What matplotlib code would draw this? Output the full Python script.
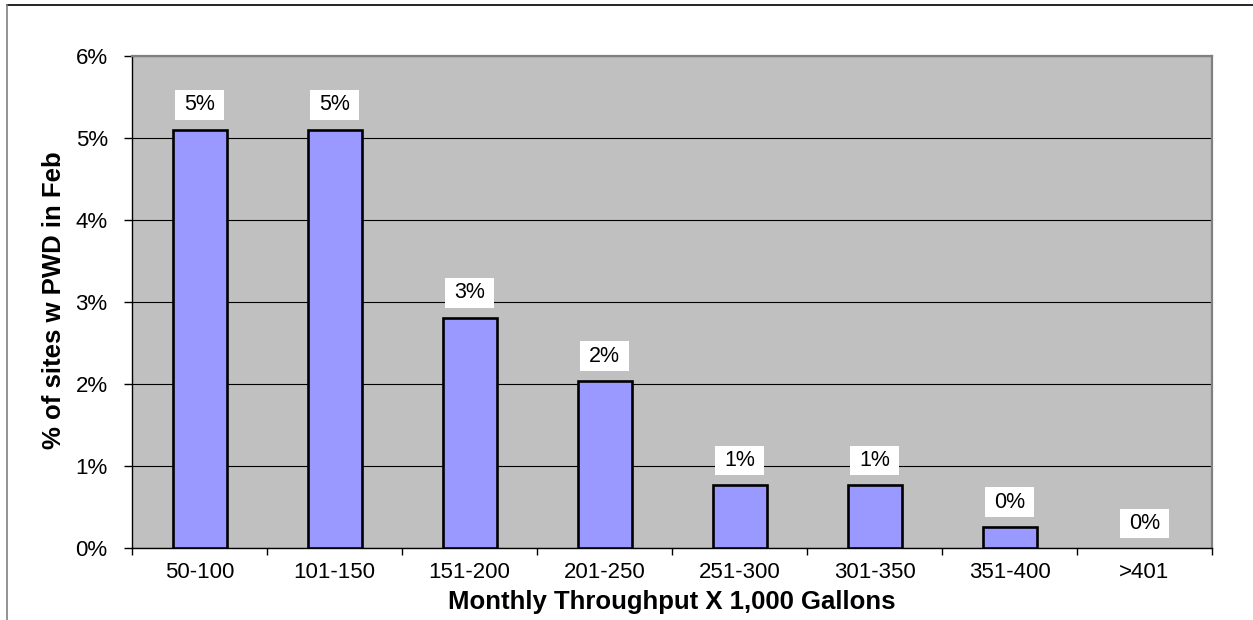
import matplotlib
matplotlib.use("Agg")
import matplotlib.pyplot as plt
from matplotlib.lines import Line2D
from matplotlib.path import Path

# Throughput bands (thousands of gallons per month)
categories = ["50-100", "101-150", "151-200", "201-250",
              "251-300", "301-350", "351-400", ">401"]
# Share of sites with PWD in February, percent
share_pct = [5.10, 5.10, 2.81, 2.04, 0.77, 0.77, 0.26, 0.0]
y_ticks = [0, 1, 2, 3, 4, 5, 6]

FONT = "Liberation Sans"
W, H = 1253, 620


def label_box(x0, y0, width, height, mutation_size):
    """White box behind data labels: wider side padding than top/bottom."""
    px, py = 0.42 * mutation_size, 0.2 * mutation_size
    return Path([(x0 - px, y0 - py), (x0 + width + px, y0 - py),
                 (x0 + width + px, y0 + height + py),
                 (x0 - px, y0 + height + py), (x0 - px, y0 - py)],
                closed=True)


fig = plt.figure(figsize=(W / 100, H / 100), dpi=100)
fig.patch.set_facecolor("white")

# outer chart frame
fig.add_artist(Line2D([7 / W, 1.0], [1 - 5 / H, 1 - 5 / H],
                      transform=fig.transFigure, color="black", lw=1.2))
fig.add_artist(Line2D([7 / W, 7 / W], [0.0, 1 - 5 / H],
                      transform=fig.transFigure, color="#808080", lw=1.2))

left, right, top, bottom = 132 / W, 1212 / W, 1 - 55.7 / H, 1 - 548.3 / H
ax = fig.add_axes([left, bottom, right - left, top - bottom])
ax.set_facecolor("#C0C0C0")

x = list(range(len(categories)))
edge_widths = [1.9 if v > 0 else 0 for v in share_pct]
ax.bar(x, share_pct, width=0.4, color="#9999FF", edgecolor="black",
       linewidth=edge_widths, zorder=3)

ax.set_xlim(-0.5, len(categories) - 0.5)
ax.set_ylim(y_ticks[0], y_ticks[-1])

ax.set_yticks(y_ticks)
ax.set_yticklabels([f"{t}%" for t in y_ticks], fontsize=16, family=FONT)
ax.yaxis.grid(True, color="black", lw=0.8, zorder=1)
ax.set_axisbelow(True)

# category boundaries carry the tick marks, centres carry the labels
ax.set_xticks([i - 0.5 for i in range(len(categories) + 1)])
ax.set_xticklabels([])
ax.set_xticks(x, minor=True)
ax.set_xticklabels(categories, minor=True, fontsize=16, family=FONT)
ax.tick_params(axis="x", which="major", length=5, width=1, direction="out")
ax.tick_params(axis="x", which="minor", length=0, pad=10)
ax.tick_params(axis="y", length=6, width=1, direction="out", pad=11.5)

for side in ("top", "right"):
    ax.spines[side].set_color("#808080")
    ax.spines[side].set_linewidth(1.6)
for side in ("left", "bottom"):
    ax.spines[side].set_color("black")
    ax.spines[side].set_linewidth(1.0)

for i, v in zip(x, share_pct):
    ax.annotate(f"{v:.0f}%", xy=(i, v), xytext=(0, 24.7),
                textcoords="offset pixels", ha="center", va="center",
                fontsize=15.5, family=FONT, zorder=5,
                bbox=dict(boxstyle=label_box, fc="white", ec="none"))

fig.text((132 + 1212) / 2 / W, 1 - 609.5 / H,
         "Monthly Throughput X 1,000 Gallons", ha="center", va="baseline",
         fontsize=18.5, fontweight="bold", family=FONT)
fig.text(61.5 / W, 1 - 300 / H, "% of sites w PWD in Feb",
         rotation=90, rotation_mode="anchor", ha="center", va="baseline",
         fontsize=18.5, fontweight="bold", family=FONT)

fig.savefig("out.png", dpi=100)
